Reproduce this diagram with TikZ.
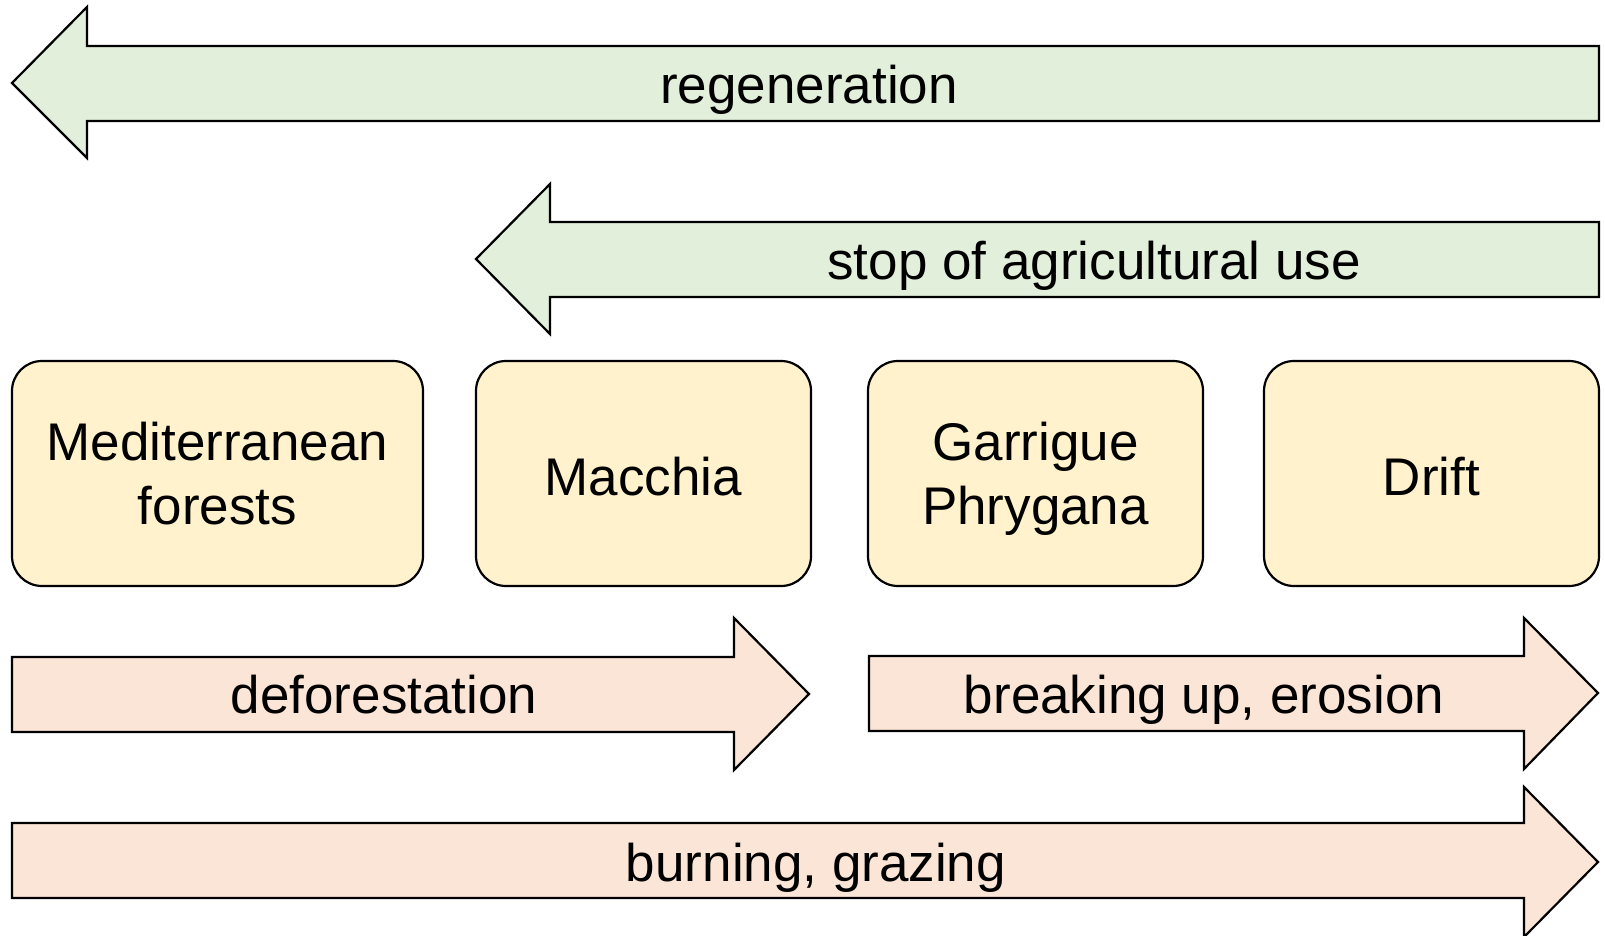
\documentclass[tikz,border=0pt]{standalone}
\usepackage{fontspec}
\setmainfont{Liberation Sans}
\definecolor{regengreen}{HTML}{E2EFDA}
\definecolor{degradepeach}{HTML}{FBE5D6}
\definecolor{stageyellow}{HTML}{FFF2CC}
\begin{document}
\begin{tikzpicture}[x=0.5pt, y=-0.5pt, line width=1.1pt, line join=miter,
  every node/.style={font=\fontsize{26.5}{31.8}\selectfont},
  greenarrow/.style={draw=black,fill=regengreen},
  peacharrow/.style={draw=black,fill=degradepeach},
  stagebox/.style={draw=black,fill=stageyellow,rounded corners=15pt,
    minimum height=112.5pt,inner sep=0pt}]
  \useasboundingbox (0,0) rectangle (1605,936);
  % regeneration arrows (pointing left)
  \draw[greenarrow] (12,83) -- (87,7) -- (87,46) -- (1599,46) -- (1599,121) -- (87,121) -- (87,158) -- cycle;
  \node (regen) at (809,90) {regeneration};
  \draw[greenarrow] (476,259) -- (550,184) -- (550,222) -- (1599,222) -- (1599,297) -- (550,297) -- (550,334) -- cycle;
  \node (stopuse) at (1094,266) {stop of agricultural use};
  % vegetation stages
  \foreach \x/\w/\dy/\name/\txt in {217.5/205.5/0/forest/{Mediterranean\\forests},643.5/167.5/-1.5/macchia/{Macchia},
      1035.5/167.5/-2.5/garrigue/{Garrigue\\Phrygana},1431.5/167.5/-1.5/drift/{Drift}} {
    \node[stagebox,minimum width=\w pt] (\name) at (\x,473.5) {};
    \node[align=center] at ([yshift=\dy pt]\name.center) {\txt};
  }
  % degradation arrows (pointing right)
  \draw[peacharrow] (12,657) -- (734,657) -- (734,618) -- (809,694) -- (734,770) -- (734,732) -- (12,732) -- cycle;
  \node (defor) at (384,695) {deforestation};
  \draw[peacharrow] (869,656) -- (1524,656) -- (1524,618) -- (1598,693) -- (1524,769) -- (1524,731) -- (869,731) -- cycle;
  \node (breakup) at (1204,700) {breaking up, erosion};
  \draw[peacharrow] (12,823) -- (1524,823) -- (1524,787) -- (1598,862) -- (1524,937) -- (1524,898) -- (12,898) -- cycle;
  \node (burn) at (816,868) {burning, grazing};
\end{tikzpicture}
\end{document}
